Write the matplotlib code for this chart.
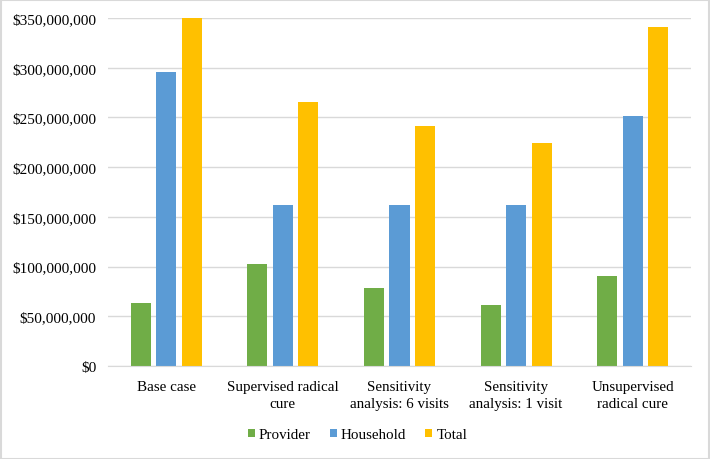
import numpy as np
import matplotlib.pyplot as plt
from matplotlib.ticker import FuncFormatter
from matplotlib.patches import Rectangle

categories = ['Base case', 'Supervised radical\ncure', 'Sensitivity\nanalysis: 6 visits',
              'Sensitivity\nanalysis: 1 visit', 'Unsupervised\nradical cure']
provider = [63.4e6, 102.6e6, 78.8e6, 61.7e6, 90.2e6]
household = [296e6, 162.3e6, 162.3e6, 162.3e6, 251.1e6]
total = [350e6, 265.6e6, 241.8e6, 224.6e6, 341.3e6]

plt.rcParams['font.family'] = ['Liberation Serif', 'DejaVu Serif']

fig = plt.figure(figsize=(7.1, 4.6), dpi=100)
ax = fig.add_axes([108/710, 1 - 367/460, (691-108)/710, (367-19)/460])

x = np.arange(len(categories))
w = 0.172
step = 0.219
ax.bar(x - step, provider, w, color='#70AD47', label='Provider', zorder=3)
ax.bar(x, household, w, color='#5B9BD5', label='Household', zorder=3)
ax.bar(x + step, total, w, color='#FFC000', label='Total', zorder=3)

ax.set_xlim(-0.5, len(categories) - 0.5)
ax.set_ylim(0, 350e6)
ax.set_yticks(np.arange(0, 350e6 + 1, 50e6))
ax.yaxis.set_major_formatter(FuncFormatter(lambda v, p: '${:,.0f}'.format(v)))
ax.set_xticks(x)
ax.set_xticklabels(categories)
ax.tick_params(axis='both', length=0)
ax.tick_params(axis='x', pad=10.4, labelsize=10.8)
ax.tick_params(axis='y', pad=8.5, labelsize=11)
for lab in ax.get_xticklabels():
    lab.set_linespacing(1.34)
ax.grid(axis='y', color='#D9D9D9', linewidth=1, zorder=0)
for s in ['top', 'right', 'left']:
    ax.spines[s].set_visible(False)
ax.spines['bottom'].set_color('#D9D9D9')
ax.spines['bottom'].set_zorder(4)

fig.legend(*ax.get_legend_handles_labels(), loc='center',
           bbox_to_anchor=(357.5/710, 1 - 435.7/460), ncol=3, frameon=False,
           fontsize=10.8, handlelength=0.45, handleheight=0.45, handletextpad=0.3,
           columnspacing=1.25, borderpad=0)

fig.patches.append(Rectangle((0.001, 0.001), 0.998, 0.997, transform=fig.transFigure,
                             fill=False, edgecolor='#D9D9D9', linewidth=1.5))

fig.savefig('out.png', dpi=100)
